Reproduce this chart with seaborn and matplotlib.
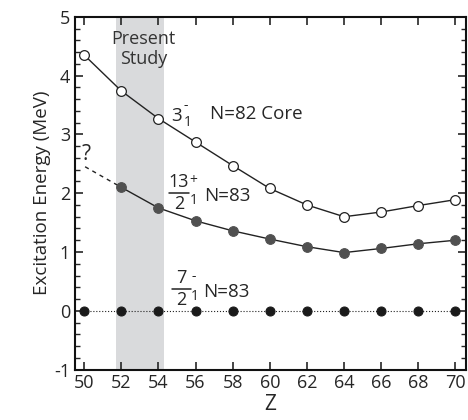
import numpy as np
import pandas as pd
import matplotlib
matplotlib.use("Agg")
import matplotlib.pyplot as plt
import seaborn as sns
from matplotlib.ticker import MultipleLocator

# dados
z_core = [50, 52, 54, 56, 58, 60, 62, 64, 66, 68, 70]
e_core = [4.35, 3.74, 3.27, 2.87, 2.47, 2.08, 1.80, 1.60, 1.68, 1.79, 1.89]

z_13 = [52, 54, 56, 58, 60, 62, 64, 66, 68, 70]
e_13 = [2.10, 1.75, 1.53, 1.36, 1.22, 1.09, 0.99, 1.06, 1.14, 1.20]

z_dash = [50.05, 52]
e_dash = [2.45, 2.10]

z_gs = [50, 52, 54, 56, 58, 60, 62, 64, 66, 68, 70]
e_gs = [0] * len(z_gs)

sns.set_style("ticks")
plt.rcParams['font.family'] = ['Open Sans', 'DejaVu Sans']
plt.rcParams['axes.unicode_minus'] = False

fig, ax = plt.subplots(figsize=(4.68, 4.2), dpi=100)
fig.subplots_adjust(left=0.16, right=0.995, top=0.96, bottom=0.12)

# região do presente estudo
ax.axvspan(51.7, 54.3, color='#d9dadc', lw=0, zorder=0)

sns.lineplot(x=z_gs, y=e_gs, ax=ax, color='#222222', lw=0.8, linestyle=':',
             marker='o', markersize=6.5, markerfacecolor='#1a1a1a',
             markeredgecolor='#1a1a1a', zorder=3)
sns.lineplot(x=z_dash, y=e_dash, ax=ax, color='#222222', lw=1.0,
             linestyle=(0, (3, 3)), zorder=2)
sns.lineplot(x=z_13, y=e_13, ax=ax, color='#222222', lw=1.0,
             marker='o', markersize=7, markerfacecolor='#505050',
             markeredgecolor='#505050', zorder=3)
sns.lineplot(x=z_core, y=e_core, ax=ax, color='#222222', lw=1.0,
             marker='o', markersize=7, markerfacecolor='white',
             markeredgecolor='#222222', markeredgewidth=0.9, zorder=3)

ax.set_xlim(49.5, 70.55)
ax.set_ylim(-1, 5)
ax.xaxis.set_major_locator(MultipleLocator(2))
ax.yaxis.set_major_locator(MultipleLocator(1))
ax.yaxis.set_minor_locator(MultipleLocator(0.2))
ax.tick_params(which='major', direction='in', length=6, width=1.2,
               top=True, right=True, labelsize=13)
ax.tick_params(which='minor', direction='in', length=3.5, width=1.0,
               left=True, right=True)
ax.tick_params(axis='x', which='minor', bottom=False, top=False)
for s in ax.spines.values():
    s.set_linewidth(1.5)
    s.set_color('#111111')

ax.set_xlabel('Z', fontsize=15, labelpad=1)
ax.set_ylabel('Excitation Energy (MeV)', fontsize=13.5, labelpad=2)

ax.text(53.2, 4.45, 'Present\nStudy', ha='center', va='center', fontsize=13,
        linespacing=1.15, color='#333333')


def rotulo(xc, yb, num, sinal, rest, largura, gap):
    # fração desenhada à mão: numerador, traço, denominador
    ax.plot([xc - largura / 2, xc + largura / 2], [yb, yb], color='#222222', lw=1.1)
    ax.text(xc, yb + 0.03, num, ha='center', va='bottom', fontsize=13)
    ax.text(xc, yb - 0.03, '2', ha='center', va='top', fontsize=13)
    ax.text(xc + largura / 2 + 0.02, yb + 0.22, sinal, ha='left', va='center', fontsize=10)
    ax.text(xc + largura / 2 + 0.02, yb - 0.12, '1', ha='left', va='center', fontsize=10)
    ax.text(xc + largura / 2 + gap, yb - 0.05, rest, ha='left', va='center', fontsize=13.5)


ax.text(55.0, 3.32, '3', ha='center', va='center', fontsize=13.5)
ax.text(55.35, 3.5, '-', ha='left', va='center', fontsize=10)
ax.text(55.35, 3.2, '1', ha='left', va='center', fontsize=10)
ax.text(56.8, 3.34, 'N=82 Core', ha='left', va='center', fontsize=13.5)

rotulo(55.1, 2.0, '13', '+', 'N=83', 1.1, 0.8)
rotulo(55.25, 0.37, '7', '-', 'N=83', 1.0, 0.65)

ax.text(50.1, 2.65, '?', fontsize=15, ha='center', va='center')

fig.savefig('out.png', dpi=100)
